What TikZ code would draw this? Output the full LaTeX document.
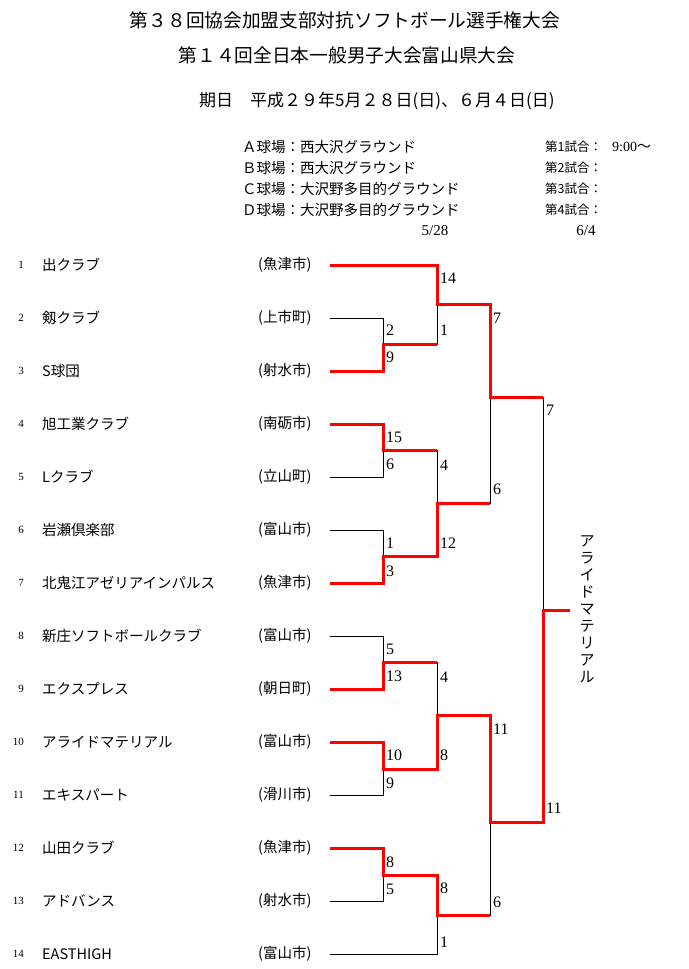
\documentclass[tikz,border=0pt]{standalone}
\usepackage{fontspec}
\setmainfont{Liberation Serif}
\newfontfamily\jp{Noto Sans CJK JP}
\newfontfamily\numf{Liberation Serif}
\tikzset{
  titletext/.style={inner sep=0pt, font=\jp\fontsize{18.7}{20}\selectfont},
  datetext/.style={inner sep=0pt, anchor=west, font=\jp\fontsize{17}{18}\selectfont},
  groundtext/.style={inner sep=0pt, anchor=west, font=\jp\fontsize{14.5}{16}\selectfont},
  gametext/.style={inner sep=0pt, anchor=west, font=\jp\fontsize{12.5}{14}\selectfont},
  daytext/.style={inner sep=0pt, font=\numf\fontsize{15}{16}\selectfont},
  seedtext/.style={inner sep=0pt, anchor=east, font=\numf\fontsize{11}{12}\selectfont},
  teamtext/.style={inner sep=0pt, anchor=west, font=\jp\fontsize{14.5}{16}\selectfont},
  citytext/.style={inner sep=0pt, anchor=west, font=\jp\fontsize{14.5}{16}\selectfont},
  scoretext/.style={inner sep=0pt, anchor=west, font=\numf\fontsize{16}{18}\selectfont},
  bline/.style={draw=black, line width=1pt},
  win/.style={draw=red, line width=3pt},
}
\begin{document}
\begin{tikzpicture}[x=1pt,y=-1pt]
\useasboundingbox (0,0) rectangle (688,969);
\fill[white] (0,0) rectangle (688,969);

% headings
\node[titletext] (title1) at (345,20) {第３８回協会加盟支部対抗ソフトボール選手権大会};
\node[titletext] (title2) at (347,55) {第１４回全日本一般男子大会富山県大会};
\node[datetext] (date) at (199,101) {期日　平成２９年5月２８日(日)、６月４日(日)};

\node[groundtext] (gA) at (242,147) {Ａ球場：西大沢グラウンド};
\node[groundtext] (gB) at (242,168) {Ｂ球場：西大沢グラウンド};
\node[groundtext] (gC) at (242,189) {Ｃ球場：大沢野多目的グラウンド};
\node[groundtext] (gD) at (242,210) {Ｄ球場：大沢野多目的グラウンド};

\node[gametext] (m1) at (545,147) {第1試合：};
\node[gametext] (m1t) at (612,147) {\numf\fontsize{14}{16}\selectfont 9:00{\jp ～}};
\node[gametext] (m2) at (545,168) {第2試合：};
\node[gametext] (m3) at (545,189) {第3試合：};
\node[gametext] (m4) at (545,210) {第4試合：};

\node[daytext] (d1) at (435,231) {5/28};
\node[daytext] (d2) at (586,231) {6/4};

% teams
\foreach \i/\nm/\ct in {1/出クラブ/魚津市, 2/剱クラブ/上市町, 3/S球団/射水市,
  4/旭工業クラブ/南砺市, 5/Lクラブ/立山町, 6/岩瀬倶楽部/富山市,
  7/北鬼江アゼリアインパルス/魚津市, 8/新庄ソフトボールクラブ/富山市,
  9/エクスプレス/朝日町, 10/アライドマテリアル/富山市, 11/エキスパート/滑川市,
  12/山田クラブ/魚津市, 13/アドバンス/射水市, 14/EASTHIGH/富山市}{
  \pgfmathsetmacro{\yy}{265+53*(\i-1)}
  \node[seedtext] (s\i) at (24,\yy) {\i};
  \node[teamtext] (n\i) at (42,\yy) {\nm};
  \node[citytext] (c\i) at (258,\yy) {(\ct)};
  \coordinate (p\i) at (330,\yy);
}

% match points
\coordinate (a1) at (383,344);
\coordinate (a2) at (383,450);
\coordinate (a3) at (383,556);
\coordinate (a4) at (383,662);
\coordinate (a5) at (383,769);
\coordinate (a6) at (383,875);
\coordinate (b1) at (437,304);
\coordinate (b2) at (437,503);
\coordinate (b3) at (437,715);
\coordinate (b4) at (437,915);
\coordinate (k1) at (490,397);
\coordinate (k2) at (490,822);
\coordinate (f) at (543,610);
\coordinate (w) at (570,610);

% black bracket
\draw[bline] (p2) -| (a1);  \draw[bline] (p3) -| (a1);
\draw[bline] (p4) -| (a2);  \draw[bline] (p5) -| (a2);
\draw[bline] (p6) -| (a3);  \draw[bline] (p7) -| (a3);
\draw[bline] (p8) -| (a4);  \draw[bline] (p9) -| (a4);
\draw[bline] (p10) -| (a5); \draw[bline] (p11) -| (a5);
\draw[bline] (p12) -| (a6); \draw[bline] (p13) -| (a6);
\draw[bline] (p1) -| (b1);  \draw[bline] (a1) -| (b1);
\draw[bline] (a2) -| (b2);  \draw[bline] (a3) -| (b2);
\draw[bline] (a4) -| (b3);  \draw[bline] (a5) -| (b3);
\draw[bline] (a6) -| (b4);  \draw[bline] (p14) -| (b4);
\draw[bline] (b1) -| (k1);  \draw[bline] (b2) -| (k1);
\draw[bline] (b3) -| (k2);  \draw[bline] (b4) -| (k2);
\draw[bline] (k1) -| (f);   \draw[bline] (k2) -| (f);
\draw[bline] (f) -- (w);

% winners in red
\draw[win] (p1) -| (b1) -| (k1) -- (k1 -| f);
\draw[win] (p3) -| (a1) -- (a1 -| b1);
\draw[win] (p4) -| (a2) -- (a2 -| b2);
\draw[win] (p7) -| (a3) -| (b2) -- (b2 -| k1);
\draw[win] (p9) -| (a4) -- (a4 -| b3);
\draw[win] (p10) -| (a5) -| (b3) -| (k2) -| (f) -- (w);
\draw[win] (p12) -| (a6) -| (b4) -- (b4 -| k2);

% scores
\foreach \xx/\yy/\sc [count=\k] in {
  386/330/2, 386/357/9, 440/278/14, 440/330/1, 493/318/7, 493/489/6,
  546/410/7, 546/808/11, 386/437/15, 386/464/6, 440/465/4, 440/543/12,
  386/543/1, 386/571/3, 386/649/5, 386/676/13, 440/677/4, 440/755/8,
  493/729/11, 493/902/6, 386/755/10, 386/783/9, 386/862/8, 386/889/5,
  440/888/8, 440/942/1}{
  \node[scoretext] (sc\k) at (\xx,\yy) {\sc};
}

% champion
\node[inner sep=0pt, align=center, font=\jp\fontsize{15}{17}\selectfont] (champ) at (587,609)
  {ア\\ラ\\イ\\ド\\マ\\テ\\リ\\ア\\ル};
\end{tikzpicture}
\end{document}
